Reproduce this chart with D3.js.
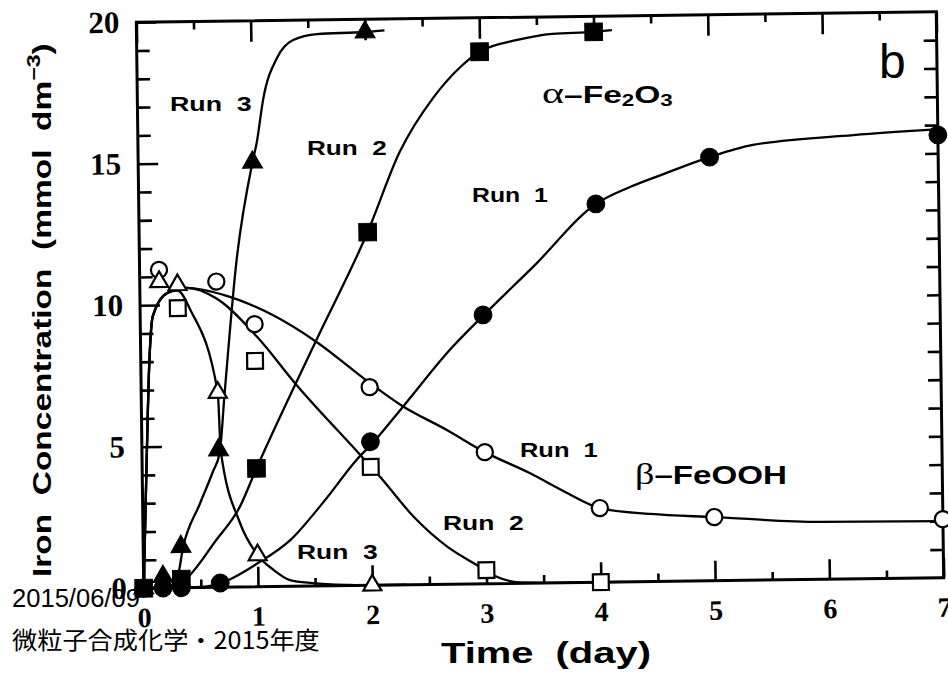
<!DOCTYPE html>
<html><head><meta charset="utf-8">
<script src="https://cdn.jsdelivr.net/npm/d3@7"></script>
<style>body{margin:0;background:#fff}svg{display:block}</style>
</head><body>
<svg id="chart" width="948" height="676"></svg>
<script>
// ---------- DATA ----------
const xTicksMajor = [0, 1, 2, 3, 4, 5, 6, 7];
const xTicksMinor = [0.5, 1.5, 2.5, 3.5, 4.5, 5.5, 6.5];
const yTicksMajor = [0, 5, 10, 15, 20];
const yTicksMinor = [1, 2, 3, 4, 6, 7, 8, 9, 11, 12, 13, 14, 16, 17, 18, 19];
const yTicksAll = d3.range(1, 20);

// alpha-Fe2O3 (filled symbols) — measured points
const run1AlphaDay  = [0, 0.17, 0.33, 0.67, 2, 3, 4, 5, 7];
const run1AlphaConc = [0, 0, 0, 0.15, 5.07, 9.5, 13.37, 14.97, 15.65];
const run2AlphaDay  = [0, 0.33, 1, 2, 3, 4];
const run2AlphaConc = [0, 0.3, 4.18, 12.48, 18.8, 19.45];
const run3AlphaDay  = [0, 0.17, 0.33, 0.67, 1, 2];
const run3AlphaConc = [0, 0.4, 1.45, 4.85, 15.0, 19.55];
// beta-FeOOH (open symbols) — measured points
const run1BetaDay  = [0.17, 0.67, 1, 2, 3, 4, 5, 7];
const run1BetaConc = [11.24, 10.8, 9.28, 7.0, 4.65, 2.62, 2.25, 2.07];
const run2BetaDay  = [0.33, 1, 2, 3, 4];
const run2BetaConc = [9.88, 7.98, 4.18, 0.48, 0];
const run3BetaDay  = [0.17, 0.33, 0.67, 1, 2];
const run3BetaConc = [10.82, 10.7, 6.88, 1.12, 0];

// drawn (fitted) curves
const run1AlphaCurveDay  = [0, 0.5, 0.67, 1.0, 1.29, 1.58, 1.88, 2.03, 2.28, 2.71, 3.02, 3.45, 4.0, 4.3, 4.6, 5.0, 5.38, 6.26, 7.0];
const run1AlphaCurveConc = [0, 0.02, 0.14, 0.83, 1.64, 2.95, 4.45, 5.07, 6.25, 8.3, 9.55, 11.2, 13.37, 13.95, 14.4, 14.97, 15.38, 15.68, 15.85];
const run2AlphaCurveDay  = [0, 0.25, 0.34, 0.64, 0.85, 1.0, 1.54, 2.0, 2.29, 2.59, 2.83, 3.0, 3.33, 3.64, 4.0, 4.16];
const run2AlphaCurveConc = [0, 0.02, 0.2, 1.67, 2.83, 4.18, 8.7, 12.48, 15.3, 17.2, 18.27, 18.8, 19.2, 19.4, 19.45, 19.5];
const run3AlphaCurveDay  = [0, 0.2, 0.29, 0.35, 0.5, 0.62, 0.68, 0.73, 0.85, 1.0, 1.04, 1.10, 1.23, 1.37, 1.58, 2.0, 2.17];
const run3AlphaCurveConc = [0, 0.02, 0.28, 1.45, 2.95, 4.1, 4.75, 6.85, 11.55, 15.0, 15.7, 17.2, 18.7, 19.3, 19.5, 19.55, 19.6];
const run1BetaCurveDay  = [0, 0.04, 0.075, 0.11, 0.24, 0.41, 0.73, 1.16, 1.54, 2.0, 2.28, 2.67, 3.0, 3.39, 3.71, 4.0, 4.44, 5.0, 5.92, 7.0];
const run1BetaCurveConc = [0, 4.5, 8.0, 9.6, 10.42, 10.59, 10.33, 9.59, 8.62, 7.15, 6.33, 5.45, 4.65, 3.89, 3.18, 2.62, 2.39, 2.25, 2.03, 2.0];
const run2BetaCurveDay  = [0, 0.04, 0.075, 0.11, 0.24, 0.41, 0.67, 1.02, 1.36, 1.91, 2.08, 2.37, 2.66, 2.92, 3.09, 3.29, 3.6, 4.2];
const run2BetaCurveConc = [0, 4.5, 8.0, 9.6, 10.42, 10.59, 10.2, 8.83, 7.11, 4.61, 3.83, 2.4, 1.33, 0.66, 0.24, 0.03, 0, 0];
const run3BetaCurveDay  = [0, 0.04, 0.075, 0.11, 0.24, 0.33, 0.44, 0.67, 0.69, 0.85, 1.0, 1.14, 1.28, 1.48, 1.8, 2.0, 2.3];
const run3BetaCurveConc = [0, 4.5, 8.0, 9.6, 10.42, 10.5, 9.81, 6.88, 4.8, 2.26, 1.12, 0.58, 0.22, 0.1, 0.02, 0, 0];

// ---------- CHART ----------
const svg = d3.select("#chart");
svg.append("rect").attr("width", 948).attr("height", 676).attr("fill", "#fff");

const frame = {left: 140, right: 940, top: 17, bottom: 583};
const x = d3.scaleLinear().domain([0, 7]).range([frame.left, frame.right]);
const y = d3.scaleLinear().domain([0, 20]).range([frame.bottom, frame.top]);

// the scanned figure is tilted slightly
const plot = svg.append("g").attr("transform", "rotate(-0.75,540,300)");

function styleAxis(g, labelSize) {
  g.select(".domain").remove();
  g.selectAll(".tick line").attr("stroke", "#000").attr("stroke-width", 2.6);
  g.attr("font-family", "'Liberation Serif', serif").attr("font-weight", "bold")
   .attr("font-size", labelSize);
  g.selectAll(".tick text").attr("fill", "#000");
}
const noLabel = () => "";

plot.append("g").attr("transform", `translate(0,${frame.bottom})`)
  .call(d3.axisBottom(x).tickValues(xTicksMajor).tickSize(-20).tickPadding(19).tickFormat(d3.format("d")))
  .call(g => styleAxis(g, 28));
plot.append("g").attr("transform", `translate(0,${frame.bottom})`)
  .call(d3.axisBottom(x).tickValues(xTicksMinor).tickSize(-8).tickFormat(noLabel))
  .call(g => styleAxis(g, 10));
plot.append("g").attr("transform", `translate(0,${frame.top})`)
  .call(d3.axisTop(x).tickValues(xTicksMajor).tickSize(-21).tickFormat(noLabel))
  .call(g => styleAxis(g, 10));
plot.append("g").attr("transform", `translate(0,${frame.top})`)
  .call(d3.axisTop(x).tickValues(xTicksMinor).tickSize(-8).tickFormat(noLabel))
  .call(g => styleAxis(g, 10));
plot.append("g").attr("transform", `translate(${frame.left},0)`)
  .call(d3.axisLeft(y).tickValues(yTicksMajor).tickSize(-20).tickPadding(17).tickFormat(d3.format("d")))
  .call(g => styleAxis(g, 31));
plot.append("g").attr("transform", `translate(${frame.left},0)`)
  .call(d3.axisLeft(y).tickValues(yTicksMinor).tickSize(-13).tickFormat(noLabel))
  .call(g => styleAxis(g, 10));
plot.append("g").attr("transform", `translate(${frame.right},0)`)
  .call(d3.axisRight(y).tickValues(yTicksAll).tickSize(-13).tickFormat(noLabel))
  .call(g => styleAxis(g, 10));

plot.append("rect")
  .attr("x", frame.left).attr("y", frame.top)
  .attr("width", frame.right - frame.left).attr("height", frame.bottom - frame.top)
  .attr("fill", "none").attr("stroke", "#000").attr("stroke-width", 3);

const zip = (a, b) => a.map((d, i) => [d, b[i]]);
const series = [
  {curve: zip(run1AlphaCurveDay, run1AlphaCurveConc), pts: zip(run1AlphaDay, run1AlphaConc), sym: d3.symbolCircle, filled: true},
  {curve: zip(run2AlphaCurveDay, run2AlphaCurveConc), pts: zip(run2AlphaDay, run2AlphaConc), sym: d3.symbolSquare, filled: true},
  {curve: zip(run3AlphaCurveDay, run3AlphaCurveConc), pts: zip(run3AlphaDay, run3AlphaConc), sym: d3.symbolTriangle, filled: true},
  {curve: zip(run1BetaCurveDay, run1BetaCurveConc), pts: zip(run1BetaDay, run1BetaConc), sym: d3.symbolCircle, filled: false},
  {curve: zip(run2BetaCurveDay, run2BetaCurveConc), pts: zip(run2BetaDay, run2BetaConc), sym: d3.symbolSquare, filled: false},
  {curve: zip(run3BetaCurveDay, run3BetaCurveConc), pts: zip(run3BetaDay, run3BetaConc), sym: d3.symbolTriangle, filled: false}
];

const line = d3.line().x(d => x(d[0])).y(d => y(d[1])).curve(d3.curveMonotoneX);
plot.append("g").selectAll("path.curve").data(series).join("path")
  .attr("class", "curve").attr("d", s => line(s.curve))
  .attr("fill", "none").attr("stroke", "#000").attr("stroke-width", 2.3)
  .attr("stroke-linejoin", "round");

function symSize(s) {
  if (s.sym === d3.symbolCircle) return s.filled ? 250 : 205;
  if (s.sym === d3.symbolSquare) return s.filled ? 310 : 250;
  return s.filled ? 175 : 140;
}
// open symbols first, filled on top
[...series.filter(s => !s.filled), ...series.filter(s => s.filled)].forEach(s => {
  plot.append("g").selectAll("path").data(s.pts).join("path")
    .attr("transform", d => `translate(${x(d[0])},${y(d[1])})`)
    .attr("d", d3.symbol().type(s.sym).size(symSize(s)))
    .attr("fill", s.filled ? "#000" : "#fff")
    .attr("stroke", "#000").attr("stroke-width", s.filled ? 1 : 2.2);
});

// ---------- TEXT ----------
const SANS = "'Liberation Sans', Arial, Helvetica, sans-serif";
function fit(t, x0, x1, baseline) {
  const bb = t.node().getBBox();
  const sx = (x1 - x0) / bb.width;
  t.attr("transform", `translate(${x0 - bb.x * sx},${baseline}) scale(${sx},1)`);
}
function runLabel(txt, x0, x1, base) {
  const t = svg.append("text").attr("x", 0).attr("y", 0)
    .attr("font-family", SANS).attr("font-weight", "bold").attr("font-size", 19.5)
    .attr("fill", "#000").attr("xml:space", "preserve").text(txt);
  fit(t, x0, x1, base);
}
runLabel("Run  3", 170, 252, 111);
runLabel("Run  2", 307, 387, 155);
runLabel("Run  1", 472, 548, 202);
runLabel("Run  1", 520, 598, 457);
runLabel("Run  2", 443, 524, 530);
runLabel("Run  3", 297, 378, 559);

// alpha-Fe2O3
{
  const t = svg.append("text").attr("x", 0).attr("y", 0).attr("fill", "#000")
    .attr("font-family", SANS).attr("font-weight", "bold").attr("font-size", 24);
  t.append("tspan").attr("font-family", "'Liberation Serif', serif").attr("font-weight", "normal").attr("font-size", 30).text("α");
  t.append("tspan").text("–Fe");
  t.append("tspan").attr("font-size", 16).attr("dy", 3).text("2");
  t.append("tspan").attr("dy", -3).text("O");
  t.append("tspan").attr("font-size", 16).attr("dy", 3).text("3");
  fit(t, 542, 673, 103);
}
// beta-FeOOH
{
  const t = svg.append("text").attr("x", 0).attr("y", 0).attr("fill", "#000")
    .attr("font-family", SANS).attr("font-weight", "bold").attr("font-size", 26);
  t.append("tspan").attr("font-family", "'Liberation Serif', serif").attr("font-weight", "normal").attr("font-size", 30).text("β");
  t.append("tspan").text("–FeOOH");
  fit(t, 635, 787, 484);
}
// panel letter
svg.append("text").attr("x", 879).attr("y", 78).attr("font-family", SANS)
  .attr("font-size", 48).attr("fill", "#000").text("b");

// axis titles
{
  const t = svg.append("text").attr("x", 0).attr("y", 0).attr("fill", "#000")
    .attr("font-family", SANS).attr("font-weight", "bold").attr("font-size", 29)
    .attr("xml:space", "preserve").text("Time  (day)");
  fit(t, 441, 651, 663);
}
{
  const t = svg.append("text").attr("x", 0).attr("y", 0).attr("fill", "#000")
    .attr("font-family", SANS).attr("font-weight", "bold").attr("font-size", 26)
    .attr("xml:space", "preserve");
  t.append("tspan").text("Iron  Concentration  (mmol  dm");
  t.append("tspan").attr("font-size", 18).attr("dy", -11).text("−3");
  t.append("tspan").attr("dy", 11).text(")");
  const bb = t.node().getBBox();
  const sx = (577 - 43) / bb.width;
  t.attr("transform", `translate(51,577) rotate(-90) scale(${sx},1) translate(${-bb.x},0)`);
}

// slide overlay texts
{
  const t = svg.append("text").attr("x", 0).attr("y", 0).attr("fill", "#000")
    .attr("font-family", SANS).attr("font-size", 26).text("2015/06/09");
  fit(t, 12, 140, 607);
}
{
  const t = svg.append("text").attr("x", 0).attr("y", 0).attr("fill", "#000")
    .attr("font-family", "'Noto Sans CJK JP', sans-serif").attr("font-size", 24)
    .text("微粒子合成化学・2015年度");
  fit(t, 12, 320, 649);
}
</script>
</body></html>
